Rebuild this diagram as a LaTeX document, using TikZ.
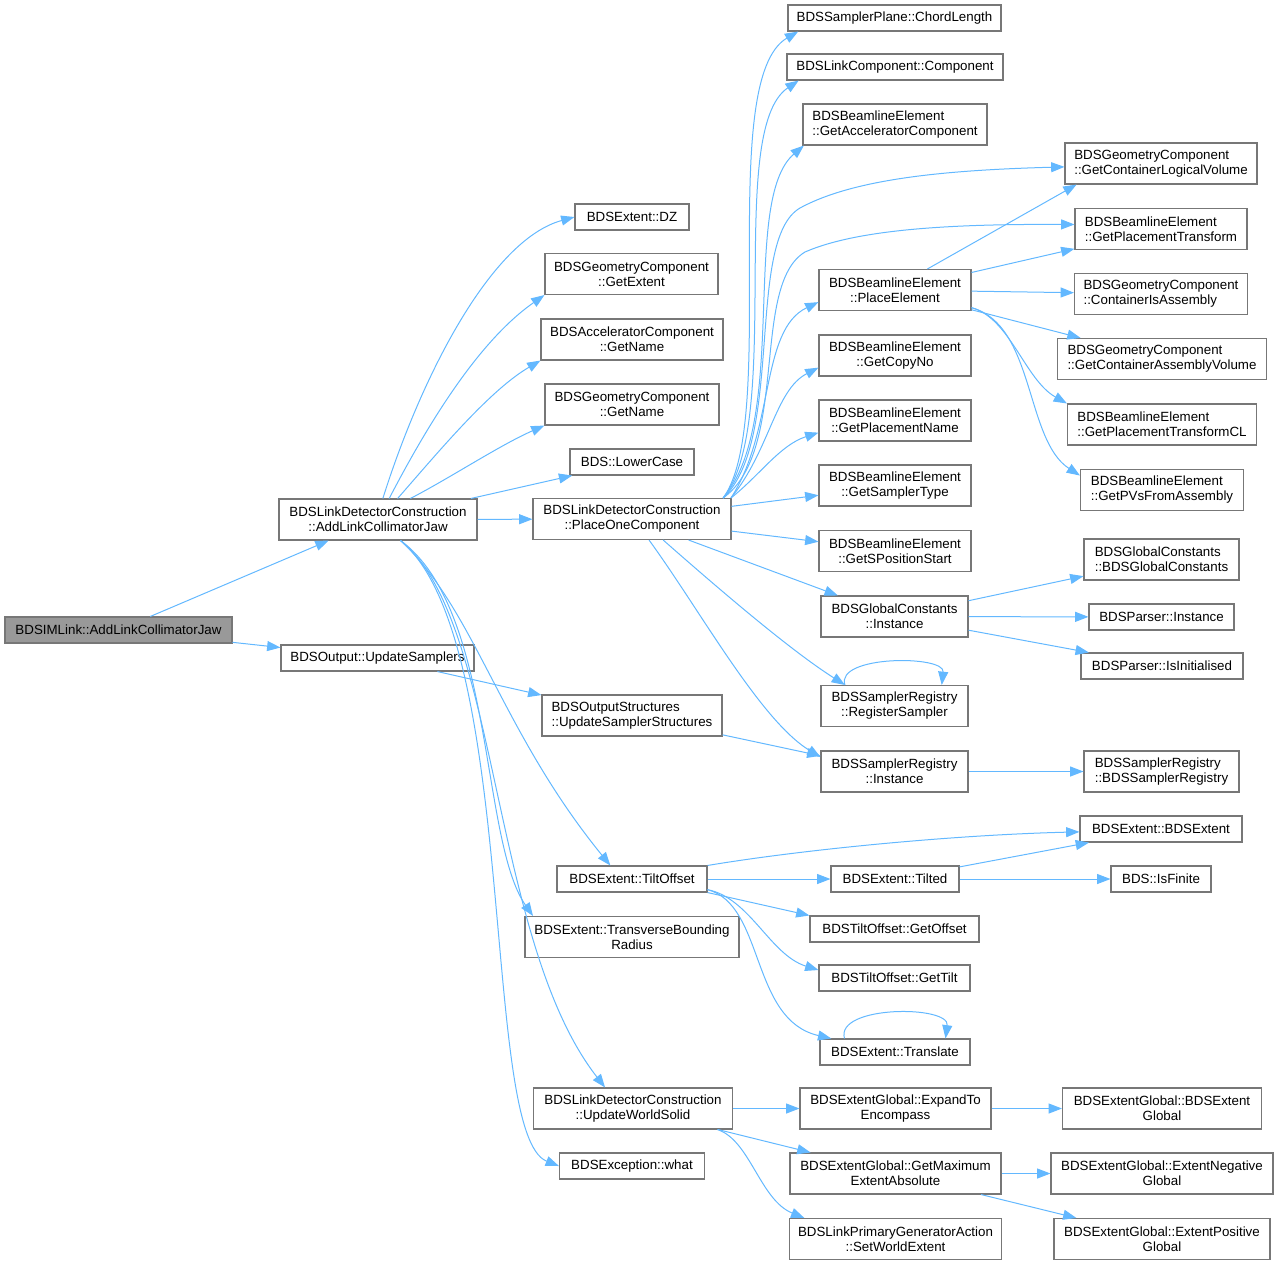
\documentclass[tikz,border=0pt]{standalone}
\usepackage{fontspec}
\setmainfont{Liberation Sans}
\usepackage{xcolor}
\usetikzlibrary{arrows.meta}
\definecolor{callblue}{HTML}{63B8FF}
\definecolor{boxgray}{HTML}{777777}
\definecolor{rootgray}{HTML}{999999}
\tikzstyle{fun}		=[rectangle,draw=boxgray,line width=0.8pt,inner sep=0pt,font=\fontsize{10}{11.25}\selectfont,align=center,minimum height=19.5pt]
\tikzstyle{funtwo}	=[fun,minimum height=30.75pt]
\tikzstyle{funleft}	=[funtwo,align=left]
\tikzstyle{funroot}	=[fun,fill=rootgray]
\tikzstyle{edgecall}	=[draw,callblue,line width=0.75pt,-{Triangle[length=10pt,width=7.5pt]}]

\begin{document}
\begin{tikzpicture}[x=0.75pt,y=0.75pt]
		\useasboundingbox (0,0) rectangle (1278,-1265);

		%%%%% caller
		\node[funroot,minimum width=170.25pt] (root) at (118.5,-630) {BDSIMLink::AddLinkCollimatorJaw};

		%%%%% one line functions
		\foreach \pos/\name/\w/\txt in {{(377.5,-658)/ups/193/BDSOutput::UpdateSamplers}, {(632,-217)/dz/114/BDSExtent::DZ}, {(632,-462)/lower/124/BDS::LowerCase}, {(632,-879)/tilt/150/BDSExtent::TiltOffset}, {(632,-1166)/what/145/BDSException::what}, {(894.5,-18)/chord/213/BDSSamplerPlane::ChordLength}, {(895,-67)/comp/216/BDSLinkComponent::Component}, {(895,-879)/tilted/128/BDSExtent::Tilted}, {(894.5,-929)/goff/169/BDSTiltOffset::GetOffset}, {(894.5,-978)/gtilt/151/BDSTiltOffset::GetTilt}, {(895,-1052)/transl/150/BDSExtent::Translate}, {(1161.5,-617)/pinst/145/BDSParser::Instance}, {(1162,-666)/isinit/162/BDSParser::IsInitialised}, {(1161,-829)/bext/162/BDSExtent::BDSExtent}, {(1161,-879)/isfin/100/BDS::IsFinite}}
		\node[fun,minimum width=\w*0.75pt] (\name) at \pos {\txt};

		%%%%% two line functions
		\foreach \pos/\name/\w/\txt in {{(378,-519.5)/ajaw/198/BDSLinkDetectorConstruction\\::AddLinkCollimatorJaw}, {(631.5,-274)/gext/173/BDSGeometryComponent\\::GetExtent}, {(632,-339.5)/acname/182/BDSAcceleratorComponent\\::GetName}, {(632,-404.5)/gname/174/BDSGeometryComponent\\::GetName}, {(632,-519)/poc/198/BDSLinkDetectorConstruction\\::PlaceOneComponent}, {(632,-937)/trans/214/BDSExtent::TransverseBounding\\Radius}, {(633,-1108.5)/uws/199/BDSLinkDetectorConstruction\\::UpdateWorldSolid}, {(895,-290)/place/152/BDSBeamlineElement\\::PlaceElement}, {(895,-355.5)/copyno/152/BDSBeamlineElement\\::GetCopyNo}, {(895,-420.5)/pname/152/BDSBeamlineElement\\::GetPlacementName}, {(895,-485.5)/stype/152/BDSBeamlineElement\\::GetSamplerType}, {(895,-551)/spos/152/BDSBeamlineElement\\::GetSPositionStart}, {(894.5,-616.5)/gcinst/147/BDSGlobalConstants\\::Instance}, {(894.5,-706)/regs/147/BDSSamplerRegistry\\::RegisterSampler}, {(894.5,-771.5)/srinst/147/BDSSamplerRegistry\\::Instance}, {(895.5,-1108.5)/expand/191/BDSExtentGlobal::ExpandTo\\Encompass}, {(895.5,-1173.5)/gmax/211/BDSExtentGlobal::GetMaximum\\ExtentAbsolute}, {(895.5,-1239)/setw/212/BDSLinkPrimaryGeneratorAction\\::SetWorldExtent}, {(1162,-1108.5)/egbe/199/BDSExtentGlobal::BDSExtent\\Global}, {(1162,-1173.5)/eneg/222/BDSExtentGlobal::ExtentNegative\\Global}, {(1162,-1239)/epos/216/BDSExtentGlobal::ExtentPositive\\Global}}
		\node[funtwo,minimum width=\w*0.75pt] (\name) at \pos {\txt};

		\foreach \pos/\name/\w/\txt in {{(632,-715.5)/ost/180/BDSOutputStructures\\::UpdateSamplerStructures}, {(895,-124.5)/gacc/184/BDSBeamlineElement\\::GetAcceleratorComponent}, {(1161,-163.5)/gclv/192/BDSGeometryComponent\\::GetContainerLogicalVolume}, {(1161,-229)/gpt/172/BDSBeamlineElement\\::GetPlacementTransform}, {(1161,-294)/cia/173/BDSGeometryComponent\\::ContainerIsAssembly}, {(1162,-359)/gcav/209/BDSGeometryComponent\\::GetContainerAssemblyVolume}, {(1162,-424.5)/gptcl/189/BDSBeamlineElement\\::GetPlacementTransformCL}, {(1162,-490)/pvs/163/BDSBeamlineElement\\::GetPVsFromAssembly}, {(1161.5,-559.5)/gcgc/155/BDSGlobalConstants\\::BDSGlobalConstants}, {(1161.5,-771.5)/srsr/155/BDSSamplerRegistry\\::BDSSamplerRegistry}}
		\node[funleft,minimum width=\w*0.75pt] (\name) at \pos {\txt};

		%%%% straight calls
		\foreach \source/ \dest in {root/ajaw,root/ups,ajaw/lower,ajaw/poc,ups/ost,ost/srinst}	\path[edgecall] (\source) -- (\dest) ;
		\foreach \source/ \dest in {poc/stype,poc/spos,poc/gcinst,gcinst/gcgc,gcinst/pinst,gcinst/isinit,srinst/srsr}	\path[edgecall] (\source) -- (\dest) ;
		\foreach \source/ \dest in {place/gpt,place/cia,place/gcav,tilt/tilted,tilted/bext,tilted/isfin}	\path[edgecall] (\source) -- (\dest) ;
		\foreach \source/ \dest in {uws/expand,uws/gmax,expand/egbe,gmax/eneg,gmax/epos}	\path[edgecall] (\source) -- (\dest) ;
		\path[edgecall] (place.33) -- (gclv.-166);
		\path[edgecall] (tilt.south east) -- (goff.north west);

		%%%% AddLinkCollimatorJaw, upwards and downwards
		\path[edgecall] (ajaw.77) .. controls (420,-380) and (490,-240) .. (dz.west);
		\path[edgecall] (ajaw.62) .. controls (430,-420) and (480,-340) .. (gext.south west);
		\path[edgecall] (ajaw.47) .. controls (440,-450) and (490,-390) .. (acname.south west);
		\path[edgecall] (ajaw.33) .. controls (450,-478) and (500,-445) .. (gname.south west);
		\path[edgecall] (ajaw.-43) .. controls (475,-610) and (500,-730) .. (tilt.148);
		\path[edgecall] (ajaw.-43) .. controls (495,-610) and (480,-840) .. (trans.168);
		\path[edgecall] (ajaw.-43) .. controls (500,-620) and (490,-940) .. (uws.143);
		\path[edgecall] (ajaw.-43) .. controls (520,-640) and (480,-1135) .. (what.west);

		%%%% PlaceOneComponent
		\path[edgecall] (poc.13) .. controls (780,-420) and (715,-80) .. (chord.-172);
		\path[edgecall] (poc.13) .. controls (785,-420) and (725,-130) .. (comp.-172);
		\path[edgecall] (poc.13) .. controls (790,-420) and (740,-200) .. (gacc.-167);
		\path[edgecall] (poc.13) .. controls (785,-440) and (745,-240) .. (800,-208) .. controls (855,-178) and (950,-170) .. (gclv.-178);
		\path[edgecall] (poc.13) .. controls (790,-450) and (750,-285) .. (805,-252) .. controls (860,-228) and (960,-224) .. (gpt.177);
		\path[edgecall] (poc.12) .. controls (775,-430) and (760,-330) .. (place.-171);
		\path[edgecall] (poc.12) .. controls (770,-450) and (775,-390) .. (copyno.-171);
		\path[edgecall] (poc.12) .. controls (760,-475) and (780,-445) .. (pname.-171);
		\path[edgecall] (poc.-34) .. controls (720,-590) and (790,-650) .. (regs.157);
		\path[edgecall] (poc.-51) .. controls (700,-610) and (760,-720) .. (srinst.169);

		%%%% PlaceElement
		\path[edgecall] (place.-13) .. controls (1010,-318) and (1025,-380) .. (gptcl.north west);
		\path[edgecall] (place.-13) .. controls (1035,-325) and (1025,-440) .. (pvs.170);

		%%%% TiltOffset and UpdateWorldSolid
		\path[edgecall] (tilt.north east) .. controls (800,-850) and (950,-835) .. (bext.-178);
		\path[edgecall] (tilt.-8) .. controls (750,-898) and (770,-955) .. (gtilt.174);
		\path[edgecall] (tilt.-8) .. controls (765,-905) and (750,-1020) .. (transl.168);
		\path[edgecall] (uws.-14) .. controls (750,-1140) and (760,-1200) .. (setw.167);

		%%%% recursive calls
		\path[edgecall] (regs.157) .. controls (835,-655) and (945,-655) .. (regs.24);
		\path[edgecall] (transl.165) .. controls (835,-1005) and (950,-1005) .. (transl.15);
\end{tikzpicture}
\end{document}
